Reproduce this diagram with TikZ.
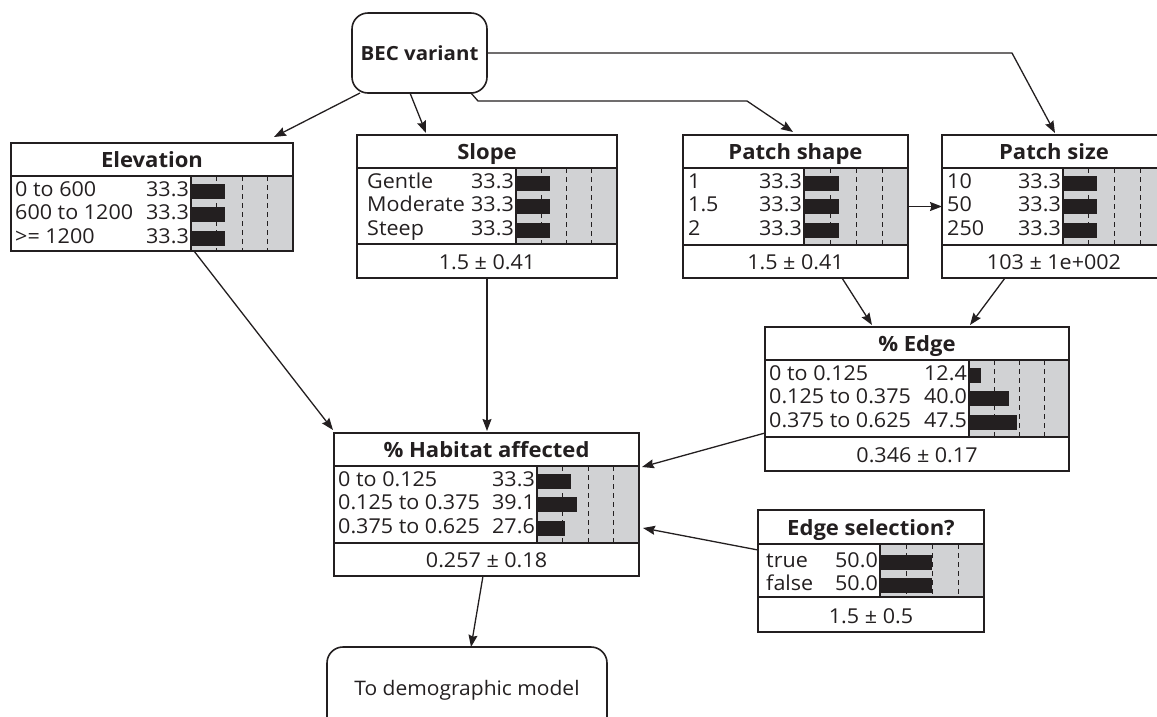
\documentclass[tikz,border=0pt]{standalone}
\usepackage{fontspec}
\setmainfont{Open Sans}[FakeStretch=1.05]
\usetikzlibrary{arrows.meta}
\definecolor{tablegrey}{RGB}{209,210,212}
\definecolor{ink}{RGB}{35,31,32}

\tikzset{
  frame/.style={draw=ink, line width=1.6pt, inner sep=0pt, outer sep=0pt},
  rule/.style={draw=ink, line width=1.6pt},
  gridline/.style={draw=ink, line width=0.9pt, dash pattern=on 5pt off 4pt},
  bar/.style={fill=ink},
  title/.style={anchor=base, inner sep=0pt, text=ink, font=\fontsize{21}{21}\selectfont\bfseries},
  cell/.style={inner sep=0pt, text=ink, font=\fontsize{20.5}{20.5}\selectfont},
  link/.style={draw=ink, line width=1.3pt, -{Stealth[length=12pt,width=9pt,inset=1.5pt]}},
  terminal/.style={draw=ink, line width=1.6pt, rounded corners=16pt, inner sep=0pt,
    outer sep=0pt, text=ink, font=\fontsize{20}{20}\selectfont, anchor=north west}
}

% probability table: left, top, right, header bottom, table bottom, divider, state x
\newcommand\cptopen[7]{%
  \def\bxL{#1}\def\bxT{#2}\def\bxR{#3}\def\bxH{#4}\def\bxS{#5}\def\bxD{#6}\def\bxX{#7}%
  \fill[tablegrey] (#6,#4) rectangle (#3,#5);
  \foreach \k in {1,2,3}{\draw[gridline] ({#6+(#3-#6)*\k/4},#4) -- ({#6+(#3-#6)*\k/4},#5);}
}
% one state: baseline, name, value, percent
\newcommand\cptrow[4]{%
  \node[cell, anchor=base west] at (\bxX,#1) {#2};
  \node[cell, anchor=base east] at ({\bxD-2},#1) {#3};
  \fill[bar] (\bxD,{#1-12.5}) rectangle ({\bxD+(\bxR-\bxD)*#4/100},{#1+2.5});
}
% rules, title, mean and outer frame: name, box bottom, title, mean
\newcommand\cptclose[4]{%
  \draw[rule] (\bxL,\bxH) -- (\bxR,\bxH);
  \draw[rule] (\bxD,\bxH) -- (\bxD,\bxS);
  \draw[rule] (\bxL,\bxS) -- (\bxR,\bxS);
  \node[title] at ({(\bxL+\bxR)/2},{\bxH-9}) {#3};
  \ifx\relax#4\relax\else
    \node[cell, anchor=base] at ({(\bxL+\bxR)/2},{#2-9}) {#4};
  \fi
  \node[frame, anchor=north west, minimum width={(\bxR-\bxL)*1pt},
        minimum height={(#2-\bxT)*1pt}] (#1) at (\bxL,\bxT) {};
}

\begin{document}
\begin{tikzpicture}[x=1pt, y=-1pt]
\useasboundingbox (0,0) rectangle (1157,716);
\clip (0,0) rectangle (1157,716);

% decision / output nodes
\node[terminal, minimum width=135pt, minimum height=80pt,
      font=\fontsize{19.5}{19.5}\selectfont\bfseries] (bec) at (352,13) {BEC variant};
\node[terminal, minimum width=280pt, minimum height=86pt] (demo) at (327,647) {To demographic model};

% Elevation
\cptopen{11}{143}{293}{176}{251}{191}{15}
\cptrow{196}{0 to 600}{33.3}{33.3}
\cptrow{219.5}{600 to 1200}{33.3}{33.3}
\cptrow{243}{>= 1200}{33.3}{33.3}
\cptclose{elev}{251}{Elevation}{}

% Slope
\cptopen{357}{135}{617}{168}{244}{516}{367}
\cptrow{188}{Gentle}{33.3}{33.3}
\cptrow{211.5}{Moderate}{33.3}{33.3}
\cptrow{235}{Steep}{33.3}{33.3}
\cptclose{slope}{278}{Slope}{1.5 ± 0.41}

% Patch shape
\cptopen{683}{135}{908}{168}{245}{804}{688}
\cptrow{188}{1}{33.3}{33.3}
\cptrow{211.5}{1.5}{33.3}{33.3}
\cptrow{235}{2}{33.3}{33.3}
\cptclose{pshape}{278}{Patch shape}{1.5 ± 0.41}

% Patch size
\cptopen{942}{135}{1166}{168}{245}{1063}{947}
\cptrow{188}{10}{33.3}{33.3}
\cptrow{211.5}{50}{33.3}{33.3}
\cptrow{235}{250}{33.3}{33.3}
\cptclose{psize}{278}{Patch size}{103 ± 1e+002}

% % Edge
\cptopen{765}{327}{1069}{360}{437}{969}{769}
\cptrow{380}{0 to 0.125}{12.4}{12.4}
\cptrow{403.5}{0.125 to 0.375}{40.0}{40.0}
\cptrow{427}{0.375 to 0.625}{47.5}{47.5}
\cptclose{edge}{471}{\% Edge}{0.346 ± 0.17}

% % Habitat affected
\cptopen{334}{433}{639}{466}{543}{537}{338}
\cptrow{486}{0 to 0.125}{33.3}{33.3}
\cptrow{509.5}{0.125 to 0.375}{39.1}{39.1}
\cptrow{533}{0.375 to 0.625}{27.6}{27.6}
\cptclose{hab}{576}{\% Habitat affected}{0.257 ± 0.18}

% Edge selection?
\cptopen{758}{510}{984}{544}{597}{880}{766}
\cptrow{567}{true}{50.0}{50.0}
\cptrow{590}{false}{50.0}{50.0}
\cptclose{esel}{632}{Edge selection?}{1.5 ± 0.5}

% influence links
\draw[link] ([xshift=8pt]bec.south west) -- ([xshift=-19pt,yshift=6pt]elev.north east);
\draw[link] ([xshift=58pt]bec.south west) -- ([xshift=69pt,yshift=2pt]slope.north west);
\draw[link] ([xshift=-16pt]bec.south east) -- ++(7,8) -- ++(269,0)
  -- ([xshift=110pt,yshift=3pt]pshape.north west);
\draw[link] (bec.east) -- ++(525,0) -- ([xshift=113pt,yshift=2pt]psize.north west);
\draw[link] (pshape.east) -- (psize.west);
\draw[link] ([xshift=-66pt]pshape.south east) -- ([xshift=107pt,yshift=2pt]edge.north west);
\draw[link] ([xshift=63pt]psize.south west) -- ([xshift=205pt,yshift=2pt]edge.north west);
\draw[link] ([xshift=183pt]elev.south west) -- ([xshift=-1pt,yshift=3pt]hab.north west);
\draw[link] (slope.south) -- ([xshift=153pt,yshift=2pt]hab.north west);
\draw[link] ([yshift=38pt]edge.south west) -- ([xshift=3pt,yshift=-34pt]hab.north east);
\draw[link] ([yshift=-40pt]esel.north west) -- ([xshift=4pt,yshift=-95pt]hab.north east);
\draw[link] ([xshift=149pt]hab.south west) -- ([xshift=144pt]demo.north west);
\end{tikzpicture}
\end{document}
